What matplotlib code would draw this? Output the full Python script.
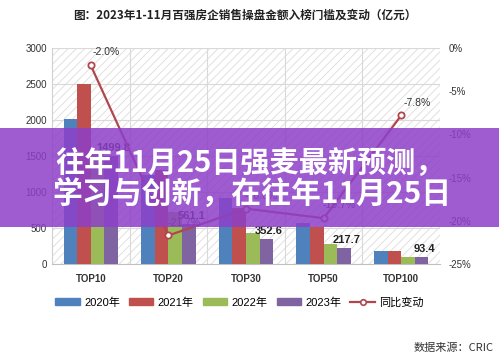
import numpy as np
import matplotlib.pyplot as plt
from matplotlib.patches import Rectangle
from matplotlib.lines import Line2D

plt.rcParams['font.family'] = ['Liberation Sans', 'Noto Sans CJK SC', 'DejaVu Sans']
plt.rcParams['hatch.linewidth'] = 0.6

# data
categories = ['TOP10', 'TOP20', 'TOP30', 'TOP50', 'TOP100']
years = ['2020年', '2021年', '2022年', '2023年']
v2020 = [2010, 1236, 920, 575, 182]
v2021 = [2500, 1300, 780, 510, 182]
v2022 = [1530, 717, 433, 271, 101]
v2023 = [1499.8, 561.1, 352.6, 217.7, 93.4]
change = [-2.0, -21.7, -18.6, -19.7, -7.8]

colors = ['#4F81BD', '#C0504D', '#9BBB59', '#8064A2']
line_color = '#B0474E'

fig = plt.figure(figsize=(4.99, 3.58), dpi=100)
fig.patch.set_facecolor('white')
ax = fig.add_axes([0.104, 0.2626, 0.778, 0.6034])

# hatched plot background
ax.patch.set_facecolor('white')
ax.patch.set_hatch('////')
ax.patch.set_edgecolor('#dcdcdc')

x = np.arange(len(categories))
w = 0.175
series = [v2020, v2021, v2022, v2023]
for i, vals in enumerate(series):
    ax.bar(x + (i - 1.5) * w, vals, w, color=colors[i], zorder=3, label=years[i])

for xi, v in zip(x, v2023):
    ax.text(xi + 1.5 * w + 0.03, v + 40, f'{v:.1f}', ha='center', va='bottom',
            fontsize=8, fontweight='bold', color='#222222', zorder=5)

ax.set_xlim(-0.5, len(categories) - 0.5)
ax.set_ylim(0, 3000)
ax.set_yticks(range(0, 3001, 500))
ax.set_xticks(x)
ax.set_xticklabels(categories, fontweight='bold', fontsize=8)
ax.tick_params(axis='both', length=0, labelsize=7, colors='#333333')
ax.tick_params(axis='x', pad=7)

# grid
for yv in range(500, 3001, 500):
    ax.axhline(yv, color='#d9d9d9', lw=0.8, zorder=1)
for b in np.arange(0.5, len(categories) - 0.5, 1):
    ax.axvline(b, color='#d9d9d9', lw=0.8, zorder=1)
for s in ['top', 'right']:
    ax.spines[s].set_visible(False)
ax.spines['left'].set_color('#d0d0d0')
ax.spines['bottom'].set_color('#bfbfbf')

ax2 = ax.twinx()
ax2.plot(x, change, color=line_color, lw=1.6, marker='o', ms=4.5,
         mfc='white', mec=line_color, mew=1.3, zorder=6)
ax2.set_ylim(-25, 0)
ax2.set_yticks(range(-25, 1, 5))
ax2.set_yticklabels([f'{t}%' if t != 0 else '0%' for t in range(-25, 1, 5)])
ax2.tick_params(axis='y', length=0, labelsize=7, colors='#333333', pad=6)
for s in ax2.spines.values():
    s.set_visible(False)
for xi, c in zip(x, change):
    ax2.text(xi + 0.2, c + 0.9, f'{c:.1f}%', ha='center', va='bottom',
             fontsize=7.5, color='#333333', zorder=6)

# legend
handles = [Rectangle((0, 0), 1, 1, color=c) for c in colors]
handles.append(Line2D([0], [0], color=line_color, lw=1.6, marker='o', ms=4,
                      mfc='white', mec=line_color, mew=1.2))
fig.legend(handles, years + ['同比变动'], loc='center', bbox_to_anchor=(0.48, 0.155),
           ncol=5, frameon=False, fontsize=8, handlelength=2.2, handleheight=0.6,
           columnspacing=0.8, handletextpad=0.4)

fig.text(0.49, 0.958, '图：2023年1-11月百强房企销售操盘金额入榜门槛及变动（亿元）',
         ha='center', va='center', fontsize=8.4, fontweight='bold',
         family=['Noto Sans CJK SC', 'DejaVu Sans'], color='#222222')
fig.text(0.99, 0.028, '数据来源：CRIC', ha='right', va='center', fontsize=8,
         family=['Noto Sans CJK SC', 'DejaVu Sans'], color='#333333')

# banner overlay
fig.add_artist(Rectangle((0, 0.366), 1, 0.2765, transform=fig.transFigure,
                         facecolor='#8E3FC9', alpha=0.85, edgecolor='none', zorder=10))
fig.text(0.5, 0.545, '往年11月25日强麦最新预测，', ha='center', va='center',
         fontsize=21, fontweight='bold', color='white',
         family=['Noto Sans CJK SC', 'DejaVu Sans'], zorder=11)
fig.text(0.505, 0.46, '学习与创新，在往年11月25日', ha='center', va='center',
         fontsize=21.5, fontweight='bold', color='white',
         family=['Noto Sans CJK SC', 'DejaVu Sans'], zorder=11)

fig.savefig('out.png', dpi=100)
